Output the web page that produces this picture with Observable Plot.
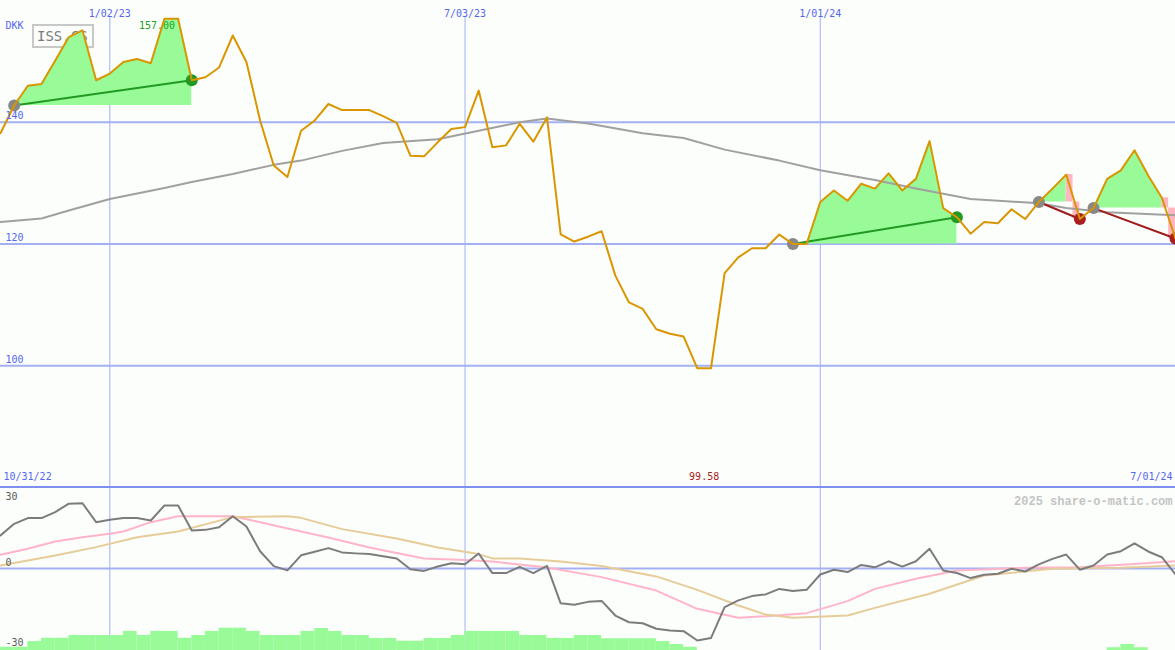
<!DOCTYPE html>
<html><head><meta charset="utf-8">
<script src="https://cdn.jsdelivr.net/npm/d3@7"></script>
<script src="https://cdn.jsdelivr.net/npm/@observablehq/plot@0.6"></script>
<style>
html,body{margin:0;padding:0;background:#fcfefc;}
#wrap{position:relative;width:1175px;height:650px;overflow:hidden;background:#fcfefc;}
#wrap svg{position:absolute;left:0;}
#legend{position:absolute;left:32px;top:24px;width:55px;height:20px;border:2px solid #c8c8c8;font:14px "DejaVu Sans Mono",monospace;color:#7a7a7a;line-height:20px;padding-left:3px;box-sizing:content-box;}
#divider{position:absolute;left:0;top:486px;width:1175px;height:2px;background:#7f8ff0;}
</style></head>
<body><div id="wrap"><div id="legend">ISS.CS</div></div>
<script>
// ---- data ----
const startWeek = "2022-11-07";
const price = [138.2,142.75,146.0,146.3,150.1,154.0,155.1,146.9,148.0,149.9,
  150.4,149.7,157.0,157.0,146.9,147.4,149.0,154.25,149.9,140.3,
  132.9,131.0,138.6,140.3,143.0,142.0,142.0,142.0,141.0,139.9,
  134.5,134.4,136.7,138.9,139.2,145.2,135.9,136.2,139.75,136.8,
  140.8,121.6,120.4,121.2,122.1,114.8,110.4,109.35,106.0,105.25,
  104.8,99.58,99.58,115.2,117.8,119.3,119.3,121.55,120.0,120.0,
  126.9,128.8,127.1,129.9,129.1,131.6,128.8,130.7,136.9,125.9,
  124.4,121.7,123.6,123.4,125.7,124.1,126.9,129.1,131.4,124.1,
  125.9,130.7,132.1,135.4,131.25,127.6,120.9];
const maWeek  = [0,3,5,8,12,14,17,20,22,25,28,32,35,38,40,43,47,50,53,57,60,64,67,71,76,78,81,86];
const maValue = [123.6,124.2,125.5,127.4,129.2,130.2,131.5,133.0,133.7,135.3,136.6,137.2,138.6,140.0,140.6,139.8,138.2,137.4,135.5,133.7,132.1,130.5,129.1,127.4,126.7,125.9,125.2,124.7];
const oscillator = [13.75,18.6,21.0,21.0,23.5,27.0,27.2,19.3,20.3,21.0,
  21.0,20.0,26.25,26.25,15.8,16.1,17.2,21.8,17.5,7.2,
  1.0,-0.8,5.5,7.0,8.5,6.7,6.3,6.0,5.1,4.2,
  -0.3,-1.0,0.8,2.2,1.8,6.25,-1.9,-1.9,0.7,-1.9,
  1.1,-14.5,-15.1,-13.9,-13.5,-19.6,-22.4,-22.8,-25.1,-25.8,
  -26.1,-30.0,-29.0,-16.1,-13.3,-11.5,-10.8,-8.5,-9.4,-8.9,
  -2.5,-0.5,-1.5,1.5,0.5,3.0,0.8,3.0,8.2,-0.8,
  -1.9,-4.0,-2.6,-2.2,-0.1,-1.25,1.7,4.0,5.8,-0.5,
  1.25,5.8,7.2,10.5,7.1,4.7,-2.5];
const pinkWeek  = [0,2,4,6,8,9,11,13,17,19,22,24,27,31,34,36,40,44,48,51,54,56,59,62,64,67,70,75,79,83,86];
const pinkValue = [5.7,8.2,11.25,13.0,14.5,15.4,19.3,21.8,21.8,19.3,15.4,12.9,8.75,4.2,3.5,2.9,0.4,-3.6,-9.2,-16.8,-20.5,-19.9,-18.6,-13.6,-8.5,-4.3,-0.8,0.3,0.5,1.9,3.0];
const tanWeek  = [0,4,7,10,13,17,21,22,25,29,32,35,36,38,41,44,48,51,54,56,58,62,64,68,72,77,82,86];
const tanValue = [1.25,5.4,8.9,13.0,15.4,21.4,21.8,21.1,16.4,12.5,8.75,6.0,4.2,4.2,2.9,1.0,-3.3,-8.9,-15.4,-19.2,-20.5,-19.6,-16.4,-10.5,-2.9,-0.1,0.3,1.25];
const volume = [2.0,2.0,5.5,7.5,7.5,9.2,9.2,9.2,9.2,11.7,
  9.2,11.7,11.7,7.5,9.2,11.7,13.7,13.7,11.7,9.2,
  9.2,9.2,11.7,13.5,11.7,9.2,9.2,7.4,7.4,5.7,
  5.7,7.4,7.4,9.2,11.7,11.7,11.7,11.7,9.2,9.2,
  7.4,7.4,9.2,9.2,7.2,7.2,7.2,7.2,5.5,3.7,
  2.0,0,0,0,0,0,0,0,0,0,
  0,0,0,0,0,0,0,0,0,0,
  0,0,0,0,0,0,0,0,0,0,
  0,1.7,3.7,1.7,0,0,0];
const tradeEntry = [1,58,76,80];
const tradeExit  = [14,70,79,86];
const gridDates  = ["2023-01-02","2023-07-03","2024-01-01"];
const gridLabels = ["1/02/23","7/03/23","1/01/24"];
const firstLabel = "10/31/22";
const lastLabel  = "7/01/24";
const priceTicks = [100,120,140];
const oscTicks   = [30,0,-30];
const currency   = "DKK";
const watermark  = "2025 share-o-matic.com";

// ---- derived tables ----
const t0 = new Date(startWeek);
const weekDate = i => d3.utcDay.offset(t0, 7 * i);
const weeks = price.map((p, i) => ({i, date: weekDate(i), next: weekDate(i + 1), price: p, osc: oscillator[i], vol: volume[i]}));
const xDomain = [weekDate(0), weekDate(price.length - 1)];
const trades = tradeEntry.map((e, k) => {
  const x = tradeExit[k];
  return {k, entry: e, exit: x, entryDate: weekDate(e), exitDate: weekDate(x), base: price[e], exitPrice: price[x], win: price[x] > price[e]};
});
const greenRows = trades.flatMap(t => weeks.slice(t.entry, (t.win ? t.exit : t.exit - 1) + 1).map(w => ({...w, base: t.base, trade: t.k})));
const pinkRows = trades.filter(t => !t.win).flatMap(t => weeks.slice(t.exit - 1, t.exit + 1).map(w => ({...w, base: t.base, trade: t.k})));
const maRows = maWeek.map((w, k) => ({date: weekDate(w), value: maValue[k]}));
const pinkRowsOsc = pinkWeek.map((w, k) => ({date: weekDate(w), value: pinkValue[k]}));
const tanRows = tanWeek.map((w, k) => ({date: weekDate(w), value: tanValue[k]}));
const grid = gridDates.map((d, i) => ({date: new Date(d), label: gridLabels[i]}));
const maxVal = d3.max(price), minVal = d3.min(price);
const maxIdx = price.map((p, i) => p === maxVal ? i : -1).filter(i => i >= 0);
const minIdx = price.map((p, i) => p === minVal ? i : -1).filter(i => i >= 0);
const minDate = new Date((weekDate(minIdx[0]).getTime() + weekDate(minIdx[minIdx.length - 1]).getTime()) / 2);

const BLUE = "#5566ee", GRID = "#a3b0f3", FONT = "DejaVu Sans Mono";
const txt = {fontFamily: FONT, fontSize: 10};

const main = Plot.plot({
  width: 1175, height: 487, margin: 0,
  x: {type: "utc", domain: xDomain, axis: null},
  y: {domain: [80, 160], axis: null},
  color: {type: "identity"},
  style: {background: "transparent", overflow: "hidden", fontFamily: FONT},
  marks: [
    Plot.ruleY(priceTicks, {stroke: GRID, strokeWidth: 2}),
    Plot.ruleX(grid, {x: "date", stroke: GRID, strokeWidth: 1, insetTop: 16}),
    Plot.areaY(greenRows, {x: "date", y1: "base", y2: "price", z: "trade", fill: "#98fb98", curve: "linear"}),
    Plot.areaY(pinkRows, {x: "date", y1: "base", y2: "price", z: "trade", fill: "#ffb6c1", curve: "step"}),
    Plot.line(maRows, {x: "date", y: "value", stroke: "#a0a0a0", strokeWidth: 2}),
    Plot.text([{date: weekDate(maxIdx[maxIdx.length - 1]), label: maxVal.toFixed(2)}], {x: "date", text: "label", frameAnchor: "top", textAnchor: "end", dx: -3, dy: 21, fill: "#22a022", ...txt}),
    Plot.link(trades, {x1: "entryDate", y1: "base", x2: "exitDate", y2: "exitPrice", stroke: t => t.win ? "#229922" : "#a01c1c", strokeWidth: 2}),
    Plot.dot(trades, {x: "entryDate", y: "base", r: 6, fill: "#888888"}),
    Plot.dot(trades, {x: "exitDate", y: "exitPrice", r: 6, fill: t => t.win ? "#229922" : "#aa2020"}),
    Plot.line(weeks, {x: "date", y: "price", stroke: "#d99600", strokeWidth: 2}),
    Plot.text([{date: minDate, label: minVal.toFixed(2)}], {x: "date", text: "label", frameAnchor: "bottom", dy: -8, fill: "#aa2222", ...txt}),
    Plot.text(grid, {x: "date", text: "label", frameAnchor: "top", dy: 9, fill: BLUE, ...txt}),
    Plot.text(priceTicks, {y: d => d, text: d => String(d), frameAnchor: "left", textAnchor: "start", dx: 5, dy: -6, fill: BLUE, ...txt}),
    Plot.text([currency], {text: d => d, frameAnchor: "top-left", dx: 5, dy: 21, fill: BLUE, ...txt}),
    Plot.text([firstLabel], {text: d => d, frameAnchor: "bottom-left", dx: 3, dy: -8, fill: BLUE, ...txt}),
    Plot.text([lastLabel], {text: d => d, frameAnchor: "bottom-right", dx: -3, dy: -8, fill: BLUE, ...txt})
  ]
});

const hist = Plot.plot({
  width: 1175, height: 163, margin: 0,
  x: {type: "utc", domain: xDomain, axis: null},
  y: {domain: [0, 100], axis: null},
  style: {background: "transparent", overflow: "hidden"},
  marks: [
    Plot.ruleX(grid, {x: "date", stroke: GRID, strokeWidth: 1}),
    Plot.rectY(weeks, {x1: "date", x2: "next", y: "vol", fill: "#98fb98"})
  ]
});

const oscLabel = (v, dy) => Plot.text([v], {y: d => d, text: d => String(d), frameAnchor: "left", textAnchor: "start", dx: 5, dy, fill: "#5a5a5a", ...txt});
const lower = Plot.plot({
  width: 1175, height: 163, margin: 0,
  x: {type: "utc", domain: xDomain, axis: null},
  y: {domain: [-34.17, 33.75], axis: null},
  style: {background: "transparent", overflow: "hidden", fontFamily: FONT},
  marks: [
    Plot.ruleY([0], {stroke: GRID, strokeWidth: 2}),
    Plot.line(pinkRowsOsc, {x: "date", y: "value", stroke: "#ffb4c8", strokeWidth: 2}),
    Plot.line(tanRows, {x: "date", y: "value", stroke: "#e6cc98", strokeWidth: 2}),
    Plot.line(weeks, {x: "date", y: "osc", stroke: "#7c7c7c", strokeWidth: 2}),
    oscLabel(oscTicks[0], 0),
    oscLabel(oscTicks[1], -6),
    oscLabel(oscTicks[2], 2),
    Plot.text([watermark], {text: d => d, frameAnchor: "top-right", dx: -3, dy: 9, fontFamily: "Liberation Mono", fontWeight: "bold", fontSize: 12, fill: "#c4c4c4"})
  ]
});

const wrap = document.getElementById("wrap");
main.style.top = "0px";
hist.style.top = "487px";
lower.style.top = "487px";
wrap.appendChild(main);
wrap.appendChild(hist);
wrap.appendChild(lower);
const div = document.createElement("div");
div.id = "divider";
wrap.appendChild(div);
</script>
</body></html>
